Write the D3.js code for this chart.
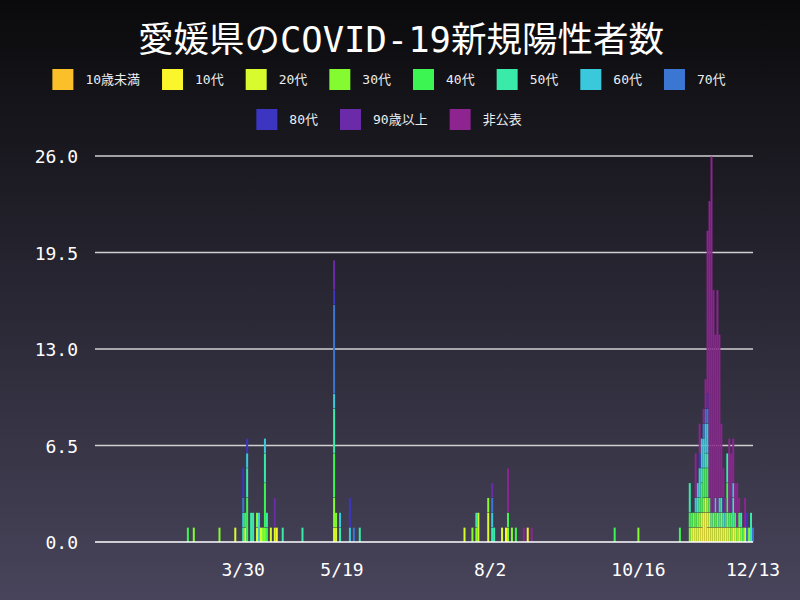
<!DOCTYPE html>
<html>
<head>
<meta charset="utf-8">
<script src="https://cdn.jsdelivr.net/npm/d3@7"></script>
<style>
  body { margin: 0; }
  svg { display: block; font-family: "DejaVu Sans Mono", "Noto Sans CJK JP", monospace; }
</style>
</head>
<body>
<svg id="chart" width="800" height="600"></svg>
<script>
// age groups, bottom to top of each stack
groups = ["10歳未満", "10代", "20代", "30代", "40代", "50代", "60代", "70代", "80代", "90歳以上", "非公表"];
colors = ["#fbbf2a", "#fbf52c", "#d8fb2e", "#84fa31", "#3cf552", "#3aeaa8", "#3ac8dc", "#3a76d2", "#3b35c2", "#6b2aa8", "#8d2490"];

// days with cases; counts are {groupIndex: n}
dates = [
  "2020-03-02", "2020-03-05", "2020-03-18", "2020-03-26", "2020-03-30", "2020-03-31",
  "2020-04-01", "2020-04-03", "2020-04-04", "2020-04-06", "2020-04-07", "2020-04-08",
  "2020-04-09", "2020-04-10", "2020-04-11", "2020-04-13", "2020-04-15", "2020-04-16",
  "2020-04-19", "2020-04-29",
  "2020-05-15", "2020-05-16", "2020-05-18", "2020-05-23", "2020-05-25", "2020-05-28",
  "2020-07-20", "2020-07-24", "2020-07-26", "2020-07-27", "2020-08-01", "2020-08-03",
  "2020-08-04", "2020-08-08", "2020-08-10", "2020-08-11", "2020-08-13", "2020-08-15",
  "2020-08-19", "2020-08-21", "2020-08-23",
  "2020-10-04", "2020-10-16", "2020-11-06",
  "2020-11-11", "2020-11-12", "2020-11-13", "2020-11-14", "2020-11-15", "2020-11-16",
  "2020-11-17", "2020-11-18", "2020-11-19", "2020-11-20", "2020-11-21", "2020-11-22",
  "2020-11-23", "2020-11-24", "2020-11-25", "2020-11-26", "2020-11-27", "2020-11-28",
  "2020-11-29", "2020-11-30", "2020-12-01", "2020-12-02", "2020-12-03", "2020-12-04",
  "2020-12-05", "2020-12-06", "2020-12-07", "2020-12-08", "2020-12-09", "2020-12-10",
  "2020-12-11", "2020-12-12", "2020-12-13"
];
counts = [
  {4:1}, {3:1}, {3:1}, {2:1}, {5:1, 6:1, 7:1, 8:2}, {2:1, 4:1},
  {4:3, 5:2, 6:1, 8:1}, {5:2}, {5:2}, {2:1, 3:1}, {6:2}, {2:1},
  {3:1}, {3:1, 4:3, 5:2, 6:1}, {4:1, 5:1}, {2:1}, {2:1, 9:2}, {1:1},
  {5:1}, {5:1},
  {2:1, 3:2, 4:3, 5:3, 6:1, 7:6, 8:1, 9:2}, {2:1, 3:1}, {5:1, 6:1}, {6:1, 8:2}, {7:1}, {5:1},
  {2:1}, {3:1}, {3:1, 5:1}, {2:2}, {2:2, 3:1}, {5:1, 6:1, 7:1, 9:1},
  {5:1}, {2:1}, {1:1}, {3:1, 4:1, 10:3}, {3:1}, {4:1},
  {10:1}, {1:1}, {10:1},
  {4:1}, {3:1}, {4:1},
  {3:1, 4:1, 5:2}, {2:1, 4:1}, {1:1, 3:1}, {2:1, 4:1, 6:1, 10:3}, {2:1, 3:1, 5:1, 6:1}, {1:1, 3:1, 4:1, 6:2, 8:1, 10:2},
  {1:1, 2:1, 4:2, 5:1, 6:2}, {1:2, 3:1, 4:2, 6:2, 7:1, 10:1}, {1:2, 2:1, 4:2, 5:1, 6:2, 7:1, 10:2},
  {1:1, 2:1, 3:1, 4:2, 5:1, 6:2, 7:1, 8:1, 10:11}, {1:1, 2:1, 4:1, 10:20}, {2:1, 5:1, 10:24},
  {1:1, 3:1, 10:15}, {2:1, 4:1, 6:1, 10:11}, {1:1, 3:1, 10:15}, {2:1, 5:1, 6:1, 10:11}, {1:1, 3:1, 4:1, 10:5}, {2:1, 5:1, 8:1, 10:2},
  {1:1, 6:1, 10:1}, {2:1, 3:1, 4:2, 5:2}, {2:1, 4:1, 10:5}, {3:1, 4:1, 9:1, 10:3}, {1:1, 5:2, 6:1, 10:3}, {2:1, 4:1, 10:2},
  {3:1, 10:3}, {2:1, 4:1, 10:1}, {3:1, 5:1}, {4:1}, {2:1, 10:2}, {7:1, 8:1},
  {3:1}, {5:2}, {7:1}
];
yTicks = [0, 6.5, 13, 19.5, 26];
xTicks = ["2020-03-30", "2020-05-19", "2020-08-02", "2020-10-16", "2020-12-13"];

var svg = d3.select("#chart");
var parse = d3.timeParse("%Y-%m-%d");

// background
var grad = svg.append("defs").append("linearGradient")
  .attr("id", "bg").attr("x1", 0).attr("y1", 0).attr("x2", 0).attr("y2", 1);
grad.append("stop").attr("offset", "0%").attr("stop-color", "#0a0a0c");
grad.append("stop").attr("offset", "100%").attr("stop-color", "#48445b");
svg.append("rect").attr("width", 800).attr("height", 600).attr("fill", "url(#bg)");

svg.append("text")
  .attr("x", 401).attr("y", 52)
  .attr("text-anchor", "middle")
  .attr("fill", "#fff")
  .attr("font-size", 35.5)
  .text("愛媛県のCOVID-19新規陽性者数");

// legend, two centered rows
var rows = [groups.slice(0, 8), groups.slice(8)];
rows.forEach(function(row, r) {
  var g = svg.append("g");
  var x = 0;
  row.forEach(function(name) {
    var i = groups.indexOf(name);
    g.append("rect").attr("x", x).attr("y", 0).attr("width", 21).attr("height", 21).attr("fill", colors[i]);
    var t = g.append("text")
      .attr("x", x + 33).attr("y", 15)
      .attr("fill", "#eee").attr("font-size", 13)
      .text(name);
    x += 33 + t.node().getComputedTextLength() + 22;
  });
  g.attr("transform", "translate(" + (400 - x / 2) + "," + (69 + r * 40) + ")");
});

var x = d3.scaleTime()
  .domain([parse("2020-01-15"), parse("2020-12-13")])
  .range([95, 753]);
var y = d3.scaleLinear().domain([0, 26]).range([542, 156]);

// grid
svg.append("g").selectAll("line")
  .data(yTicks.slice(1))
  .join("line")
  .attr("x1", 95).attr("x2", 753)
  .attr("y1", function(d) { return y(d); }).attr("y2", function(d) { return y(d); })
  .attr("stroke", "#d0d0d0").attr("stroke-width", 1.5);

svg.append("g").selectAll("text")
  .data(yTicks)
  .join("text")
  .attr("x", 78).attr("y", function(d) { return y(d) + 7; })
  .attr("text-anchor", "end")
  .attr("fill", "#fff").attr("font-size", 18)
  .text(function(d) { return d.toFixed(1); });

svg.append("g").selectAll("text")
  .data(xTicks)
  .join("text")
  .attr("x", function(d) { return x(parse(d)); }).attr("y", 576)
  .attr("text-anchor", "middle")
  .attr("fill", "#fff").attr("font-size", 18)
  .text(function(d) { return d3.timeFormat("%-m/%-d")(parse(d)); });

// stacked bars
var table = dates.map(function(d, i) {
  var row = { date: parse(d) };
  groups.forEach(function(g, k) { row[k] = counts[i][k] || 0; });
  return row;
});
var stack = d3.stack().keys(d3.range(groups.length))(table);

svg.append("g").selectAll("g")
  .data(stack)
  .join("g")
  .attr("fill", function(d, k) { return colors[k]; })
  .selectAll("rect")
  .data(function(d) { return d.filter(function(s) { return s[1] > s[0]; }); })
  .join("rect")
  .attr("x", function(s) { return x(s.data.date) - 1; })
  .attr("width", 2)
  .attr("y", function(s) { return y(s[1]) + 0.5; })
  .attr("height", function(s) { return y(s[0]) - y(s[1]) - 0.5; });

svg.append("line")
  .attr("x1", 95).attr("x2", 753).attr("y1", 542).attr("y2", 542)
  .attr("stroke", "#fff").attr("stroke-width", 1.5);
</script>
</body>
</html>
